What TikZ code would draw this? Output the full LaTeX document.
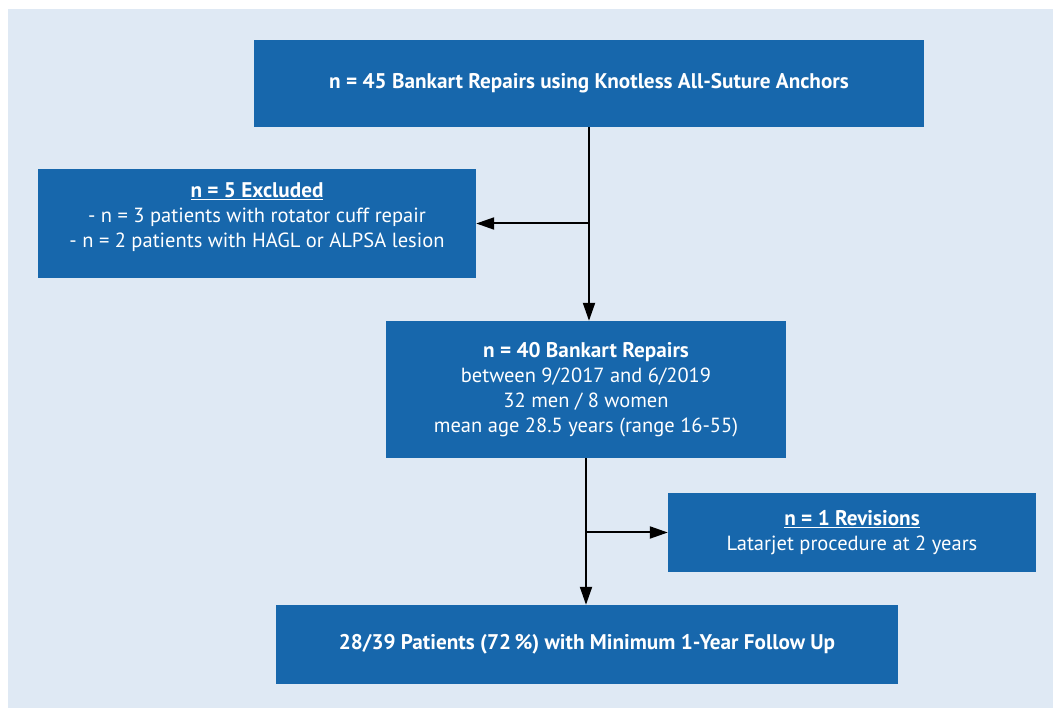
\documentclass[tikz,border=0pt]{standalone}
\usepackage{fontspec}
\setmainfont{PT Sans}
\usetikzlibrary{arrows.meta}
\definecolor{boxblue}{RGB}{23,103,172}
\definecolor{bgblue}{RGB}{223,233,244}
\newcommand{\hd}{\fontsize{21.2}{25}\selectfont\bfseries}
\tikzset{
  box/.style={rectangle, fill=boxblue, text=white, align=center, inner sep=0pt,
    font=\fontsize{20.5}{25}\selectfont},
  txt/.style={text=white, align=center, inner sep=0pt,
    font=\fontsize{20.5}{25}\selectfont},
  conn/.style={line width=2pt, draw=black, -{Triangle[length=18pt,width=12pt]}}
}
\begin{document}
\begin{tikzpicture}[x=1pt,y=-1pt]
\useasboundingbox (0,0) rectangle (1053,708);
\fill[white] (0,0) rectangle (1053,708);
\fill[bgblue] (8,9) rectangle (1053,708);

\node[box, minimum width=670pt, minimum height=87pt] (top) at (589,83.5)
  {\hd n = 45 Bankart Repairs using Knotless All-Suture Anchors};
\node[box, minimum width=438pt, minimum height=109pt] (excl) at (257,223.5) {};
\node[txt] (excltxt) at (257,217.5)
  {\hd\underline{n = 5 Excluded}\\
   - n = 3 patients with rotator cuff repair\\
   - n = 2 patients with HAGL or ALPSA lesion};
\node[box, minimum width=400pt, minimum height=137pt] (mid) at (586,389.5)
  {\hd n = 40 Bankart Repairs\\
   between 9/2017 and 6/2019\\
   32 men / 8 women\\
   mean age 28.5 years (range 16-55)};
\node[box, minimum width=368pt, minimum height=79pt] (rev) at (852,532.5)
  {\hd\underline{n = 1 Revisions}\\
   Latarjet procedure at 2 years};
\node[box, minimum width=622pt, minimum height=79pt] (bot) at (587,644.5)
  {\hd 28/39 Patients (72\,\%) with Minimum 1-Year Follow Up};

\coordinate (b1) at (top.south |- excl.east);
\coordinate (b2) at (mid.south |- rev.west);
\draw[conn] (top.south) -- (top.south |- mid.north);
\draw[conn] (b1) -- (excl.east);
\draw[conn] (mid.south) -- (mid.south |- bot.north);
\draw[conn] (b2) -- (rev.west);
\end{tikzpicture}
\end{document}
